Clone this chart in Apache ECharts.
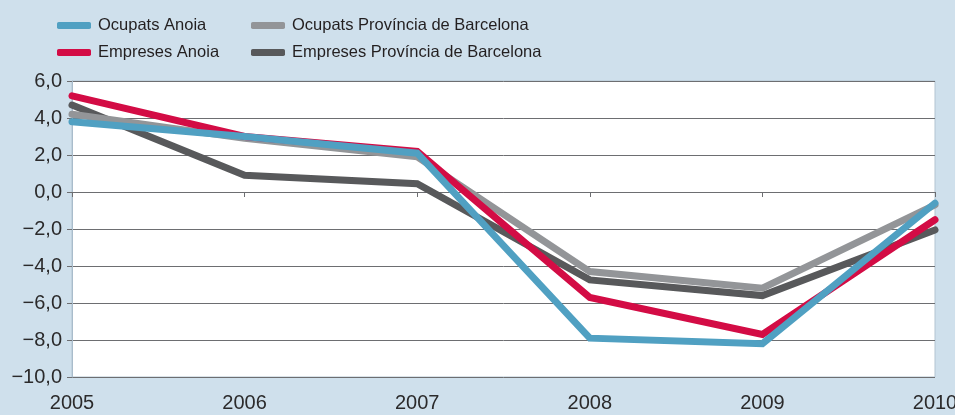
<!DOCTYPE html>
<html>
<head>
<meta charset="utf-8">
<script src="https://cdn.jsdelivr.net/npm/echarts@6/dist/echarts.min.js"></script>
<style>
  html, body { margin: 0; padding: 0; background: #cfe0ec; }
  #chart { width: 955px; height: 415px; }
</style>
</head>
<body>
<div id="chart"></div>
<script>
const years = ['2005', '2006', '2007', '2008', '2009', '2010']
const ocupatsAnoia = [3.8, 3.0, 2.1, -7.9, -8.2, -0.6]
const empresesAnoia = [5.2, 3.0, 2.2, -5.7, -7.7, -1.5]
const ocupatsBcn = [4.2, 2.9, 1.9, -4.3, -5.2, -0.7]
const empresesBcn = [4.7, 0.9, 0.45, -4.75, -5.6, -2.05]

const colors = {
  ocupatsAnoia: '#50a0c2',
  empresesAnoia: '#d30c45',
  ocupatsBcn: '#939598',
  empresesBcn: '#58595b'
}

const fontFamily = 'Liberation Sans, Arial, sans-serif'

function lineSeries (name, data, color, z) {
  return {
    name: name,
    type: 'line',
    data: data,
    z: z,
    symbol: 'none',
    lineStyle: { color: color, width: 7, cap: 'round', join: 'miter' },
    itemStyle: { color: color }
  }
}

const legendBase = {
  orient: 'vertical',
  top: 12,
  itemWidth: 34,
  itemHeight: 7,
  itemGap: 10,
  icon: 'roundRect',
  textStyle: { fontSize: 16.5, color: '#231f20', fontFamily: fontFamily, padding: [0, 0, 0, 2] }
}

const myChart = echarts.init(document.getElementById('chart'))
const option = {
  backgroundColor: '#cfe0ec',
  animation: false,
  legend: [
    Object.assign({}, legendBase, { left: 52, data: ['Ocupats Anoia', 'Empreses Anoia'] }),
    Object.assign({}, legendBase, { left: 246, data: ['Ocupats Província de Barcelona', 'Empreses Província de Barcelona'] })
  ],
  grid: {
    left: 72,
    right: 20,
    top: 81,
    bottom: 38,
    outerBoundsMode: 'none',
    show: true,
    backgroundColor: '#ffffff',
    borderColor: '#b3c4d1',
    borderWidth: 1
  },
  xAxis: {
    type: 'category',
    data: years,
    boundaryGap: false,
    axisLine: { lineStyle: { color: '#6d6e71', width: 1 } },
    axisTick: { show: true, length: 5, lineStyle: { color: '#6d6e71' } },
    axisLabel: { fontSize: 20, color: '#2b2a2b', fontFamily: fontFamily, margin: 16 },
    splitLine: { show: false }
  },
  yAxis: {
    type: 'value',
    min: -10,
    max: 6,
    interval: 2,
    axisLine: { show: true, lineStyle: { color: '#a9bccb', width: 1 } },
    axisTick: { show: true, length: 5, lineStyle: { color: '#6d6e71' } },
    axisLabel: {
      fontSize: 20,
      color: '#2b2a2b',
      fontFamily: fontFamily,
      margin: 10,
      formatter: function (v) {
        const s = Math.abs(v).toFixed(1).replace('.', ',')
        return v < 0 ? '\u2212' + s : s
      }
    },
    splitLine: { show: true, lineStyle: { color: '#6d6e71', width: 1 } }
  },
  series: [
    lineSeries('Empreses Província de Barcelona', empresesBcn, colors.empresesBcn, 1),
    lineSeries('Ocupats Província de Barcelona', ocupatsBcn, colors.ocupatsBcn, 2),
    lineSeries('Empreses Anoia', empresesAnoia, colors.empresesAnoia, 3),
    lineSeries('Ocupats Anoia', ocupatsAnoia, colors.ocupatsAnoia, 4)
  ]
}
myChart.setOption(option)
</script>
</body>
</html>
